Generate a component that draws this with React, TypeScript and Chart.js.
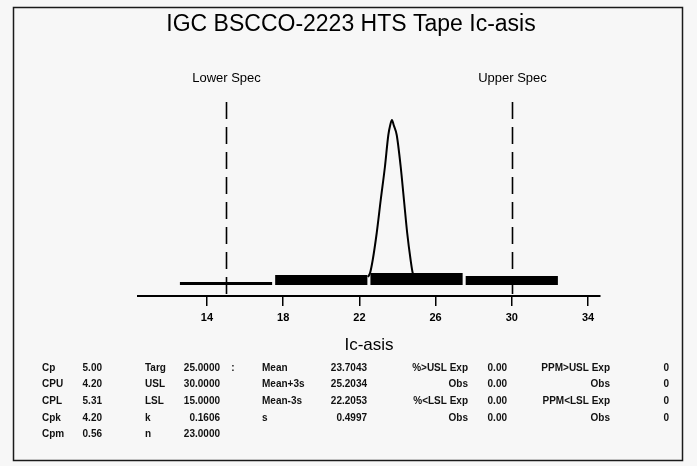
import React, { useEffect, useRef } from 'react';
import { Chart, registerables } from 'chart.js';

Chart.register(...registerables);

// ---------- data ----------
const TITLE = 'IGC BSCCO-2223 HTS Tape Ic-asis';
const X_TITLE = 'Ic-asis';
const X_MIN = 10.38;
const X_MAX = 34.63;
const X_TICKS = [14, 18, 22, 26, 30, 34];
const LSL = 15;
const USL = 30;
const SPEC_LABELS = ['Lower Spec', 'Upper Spec'];

// histogram bins (centre, height)
const BIN_CENTERS = [15, 20, 25, 30];
const BIN_HEIGHTS = [3, 10, 12, 9];

// fitted curve
const CURVE_X = [22.45, 22.56, 22.7, 22.91, 23.12, 23.34, 23.52, 23.62, 23.71, 23.8, 23.96, 24.17, 24.34, 24.51, 24.69, 24.8, 24.95];
const CURVE_Y = [8, 12, 25, 52, 85, 118, 150, 160, 165, 160, 150, 118, 85, 52, 25, 12, 6];

const Y_MIN = -11;
const Y_MAX = 183;

// statistics table
const COL1_LABELS = ['Cp', 'CPU', 'CPL', 'Cpk', 'Cpm'];
const COL1_VALUES = ['5.00', '4.20', '5.31', '4.20', '0.56'];
const COL2_LABELS = ['Targ', 'USL', 'LSL', 'k', 'n'];
const COL2_VALUES = ['25.0000', '30.0000', '15.0000', '0.1606', '23.0000'];
const COL3_LABELS = ['Mean', 'Mean+3s', 'Mean-3s', 's'];
const COL3_VALUES = ['23.7043', '25.2034', '22.2053', '0.4997'];
const COL4_LABELS = ['%>USL Exp', 'Obs', '%<LSL Exp', 'Obs'];
const COL4_VALUES = ['0.00', '0.00', '0.00', '0.00'];
const COL5_LABELS = ['PPM>USL Exp', 'Obs', 'PPM<LSL Exp', 'Obs'];
const COL5_VALUES = ['0', '0', '0', '0'];

const FAMILY = '"Liberation Sans", Arial, Helvetica, sans-serif';

const decor = {
  id: 'decor',
  beforeDraw(chart: any) {
    const ctx = chart.ctx;
    ctx.save();
    ctx.fillStyle = '#f7f7f7';
    ctx.fillRect(0, 0, chart.width, chart.height);
    ctx.restore();
  },
  afterDraw(chart: any) {
    const { ctx, chartArea, scales } = chart;
    const xs = scales.x;
    ctx.save();
    // frame
    ctx.strokeStyle = '#1a1a1a';
    ctx.lineWidth = 1.5;
    ctx.strokeRect(13.5, 7.5, 669, 453);

    // title
    ctx.fillStyle = '#000';
    ctx.textAlign = 'center';
    ctx.textBaseline = 'middle';
    ctx.font = `23px ${FAMILY}`;
    ctx.fillText(TITLE, 351, 25);

    // spec lines
    [LSL, USL].forEach((v, i) => {
      const px = Math.round(xs.getPixelForValue(v)) + 0.5;
      ctx.strokeStyle = '#000';
      ctx.lineWidth = 1.6;
      ctx.setLineDash([17, 8]);
      ctx.beginPath();
      ctx.moveTo(px, chartArea.top);
      ctx.lineTo(px, chartArea.bottom);
      ctx.stroke();
      ctx.setLineDash([]);
      ctx.font = `13px ${FAMILY}`;
      ctx.textAlign = 'center';
      ctx.fillText(SPEC_LABELS[i], px, 78);
    });

    // stats table
    const rowY = [368, 384.6, 401.2, 417.8, 434.4];
    ctx.font = `bold 10px ${FAMILY}`;
    ctx.fillStyle = '#111';
    const cols = [
      { labels: COL1_LABELS, values: COL1_VALUES, lx: 42, la: 'left', vx: 102 },
      { labels: COL2_LABELS, values: COL2_VALUES, lx: 145, la: 'left', vx: 220 },
      { labels: COL3_LABELS, values: COL3_VALUES, lx: 262, la: 'left', vx: 367 },
      { labels: COL4_LABELS, values: COL4_VALUES, lx: 468, la: 'right', vx: 507 },
      { labels: COL5_LABELS, values: COL5_VALUES, lx: 610, la: 'right', vx: 669 },
    ];
    cols.forEach((c) => {
      c.labels.forEach((lab, r) => {
        ctx.textAlign = c.la;
        ctx.fillText(lab, c.lx, rowY[r]);
        ctx.textAlign = 'right';
        ctx.fillText(c.values[r], c.vx, rowY[r]);
      });
    });
    ctx.textAlign = 'center';
    ctx.fillText(':', 233, rowY[0]);
    ctx.restore();
  },
};

export default function App() {
  const ref = useRef<HTMLCanvasElement | null>(null);
  useEffect(() => {
    if (!ref.current) return;
    const chart = new Chart(ref.current, {
      type: 'bar',
      data: {
        datasets: [
          {
            type: 'bar',
            data: BIN_CENTERS.map((x, i) => ({ x, y: BIN_HEIGHTS[i] })),
            backgroundColor: '#000',
            borderWidth: 0,
            barPercentage: 1.21,
            categoryPercentage: 1,
            order: 1,
          } as any,
          {
            type: 'line',
            data: CURVE_X.map((x, i) => ({ x, y: CURVE_Y[i] })),
            borderColor: '#000',
            borderWidth: 2,
            pointRadius: 0,
            cubicInterpolationMode: 'monotone',
            fill: false,
            order: 2,
          } as any,
        ],
      },
      options: {
        responsive: false,
        animation: false,
        devicePixelRatio: 1,
        layout: { padding: { left: 138, right: 97, top: 102, bottom: 110.4 } },
        plugins: {
          legend: { display: false },
          title: { display: false },
          tooltip: { enabled: false },
        },
        scales: {
          x: {
            type: 'linear',
            min: X_MIN,
            max: X_MAX,
            offset: false,
            afterBuildTicks: (s: any) => {
              s.ticks = X_TICKS.map((v) => ({ value: v }));
            },
            grid: {
              display: true,
              offset: false,
              drawOnChartArea: false,
              drawTicks: true,
              tickLength: 10,
              color: '#000',
              lineWidth: 1.5,
            },
            border: { display: true, color: '#000', width: 2 },
            ticks: {
              color: '#000',
              font: { family: FAMILY, size: 11, weight: 'bold' },
              padding: 5,
              maxRotation: 0,
              autoSkip: false,
            },
            title: {
              display: true,
              text: X_TITLE,
              color: '#000',
              font: { family: FAMILY, size: 17 },
              padding: { top: 6, bottom: 0 },
            },
          },
          y: { type: 'linear', min: Y_MIN, max: Y_MAX, display: false },
        },
      } as any,
      plugins: [decor],
    });
    return () => chart.destroy();
  }, []);
  return (
    <div style={{ position: 'fixed', left: 0, top: 0, width: 697, height: 466, background: '#f7f7f7' }}>
      <canvas ref={ref} width={697} height={466} style={{ display: 'block', width: 697, height: 466 }} />
    </div>
  );
}
